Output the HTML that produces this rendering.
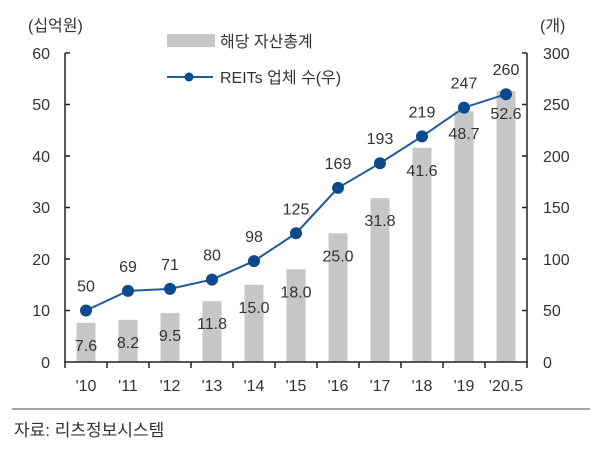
<!DOCTYPE html><html><head><meta charset="utf-8"><style>body{margin:0;background:#fff}svg text{font-family:"Liberation Sans","Noto Sans CJK KR",sans-serif;fill:#333}</style></head><body>
<svg width="600" height="460" xmlns="http://www.w3.org/2000/svg" font-size="16">
<g fill="#c6c6c6">
<rect x="76.5" y="322.9" width="19" height="39.1"/>
<rect x="118.5" y="319.8" width="19" height="42.2"/>
<rect x="160.5" y="313.1" width="19" height="48.9"/>
<rect x="202.5" y="301.2" width="19" height="60.8"/>
<rect x="244.5" y="284.8" width="19" height="77.2"/>
<rect x="286.5" y="269.3" width="19" height="92.7"/>
<rect x="328.5" y="233.3" width="19" height="128.7"/>
<rect x="370.5" y="198.2" width="19" height="163.8"/>
<rect x="412.5" y="147.8" width="19" height="214.2"/>
<rect x="454.5" y="111.2" width="19" height="250.8"/>
<rect x="496.5" y="91.1" width="19" height="270.9"/>
</g>
<g stroke="#222" stroke-width="1.5" fill="none">
<path d="M65,53V362H527V53"/>
<path d="M65,53h5M65,104.5h5M65,156h5M65,207.5h5M65,259h5M65,310.5h5M527,53h-5M527,104.5h-5M527,156h-5M527,207.5h-5M527,259h-5M527,310.5h-5"/>
<path d="M65,362v6M107,362v6M149,362v6M191,362v6M233,362v6M275,362v6M317,362v6M359,362v6M401,362v6M443,362v6M485,362v6M527,362v6"/>
</g>
<g text-anchor="end">
<text x="50" y="59">60</text><text x="50" y="110">50</text><text x="50" y="162">40</text><text x="50" y="213">30</text><text x="50" y="265">20</text><text x="50" y="316">10</text><text x="50" y="368">0</text>
</g>
<g>
<text x="543" y="59">300</text><text x="543" y="110">250</text><text x="543" y="162">200</text><text x="543" y="213">150</text><text x="543" y="265">100</text><text x="543" y="316">50</text><text x="543" y="368">0</text>
</g>
<text x="28" y="31">(십억원)</text>
<text x="540" y="31">(개)</text>
<rect x="167" y="34" width="48" height="13" fill="#c6c6c6"/>
<text x="220" y="47">해당 자산총계</text>
<line x1="167" y1="77" x2="213" y2="77" stroke="#1f5a9a" stroke-width="2"/>
<circle cx="189" cy="77" r="4.5" fill="#0b4a8f"/>
<text x="220" y="83">REITs 업체 수(우)</text>
<polyline points="86,310.5 128,290.9 170,288.9 212,279.6 254,261.1 296,233.3 338,187.9 380,163.2 422,136.4 464,107.6 506,94.2" fill="none" stroke="#1f5a9a" stroke-width="2"/>
<g fill="#0b4a8f">
<circle cx="86" cy="310.5" r="6"/><circle cx="128" cy="290.9" r="6"/><circle cx="170" cy="288.9" r="6"/><circle cx="212" cy="279.6" r="6"/><circle cx="254" cy="261.1" r="6"/><circle cx="296" cy="233.3" r="6"/><circle cx="338" cy="187.9" r="6"/><circle cx="380" cy="163.2" r="6"/><circle cx="422" cy="136.4" r="6"/><circle cx="464" cy="107.6" r="6"/><circle cx="506" cy="94.2" r="6"/>
</g>
<g text-anchor="middle">
<text x="86" y="350.9">7.6</text><text x="128" y="347.8">8.2</text><text x="170" y="341.1">9.5</text><text x="212" y="329.2">11.8</text><text x="254" y="312.8">15.0</text><text x="296" y="297.3">18.0</text><text x="338" y="261.3">25.0</text><text x="380" y="226.2">31.8</text><text x="422" y="175.8">41.6</text><text x="464" y="139.2">48.7</text><text x="506" y="119.1">52.6</text>
<text x="86" y="291.5">50</text><text x="128" y="271.9">69</text><text x="170" y="269.9">71</text><text x="212" y="260.6">80</text><text x="254" y="242.1">98</text><text x="296" y="214.3">125</text><text x="338" y="168.9">169</text><text x="380" y="144.2">193</text><text x="422" y="117.4">219</text><text x="464" y="88.6">247</text><text x="506" y="75.2">260</text>
<text x="86" y="391">'10</text><text x="128" y="391">'11</text><text x="170" y="391">'12</text><text x="212" y="391">'13</text><text x="254" y="391">'14</text><text x="296" y="391">'15</text><text x="338" y="391">'16</text><text x="380" y="391">'17</text><text x="422" y="391">'18</text><text x="464" y="391">'19</text><text x="506" y="391">'20.5</text>
</g>
<line x1="12" y1="409" x2="590" y2="409" stroke="#888" stroke-width="1.5"/>
<text x="14" y="436" font-size="17">자료: 리츠정보시스템</text>
</svg></body></html>
